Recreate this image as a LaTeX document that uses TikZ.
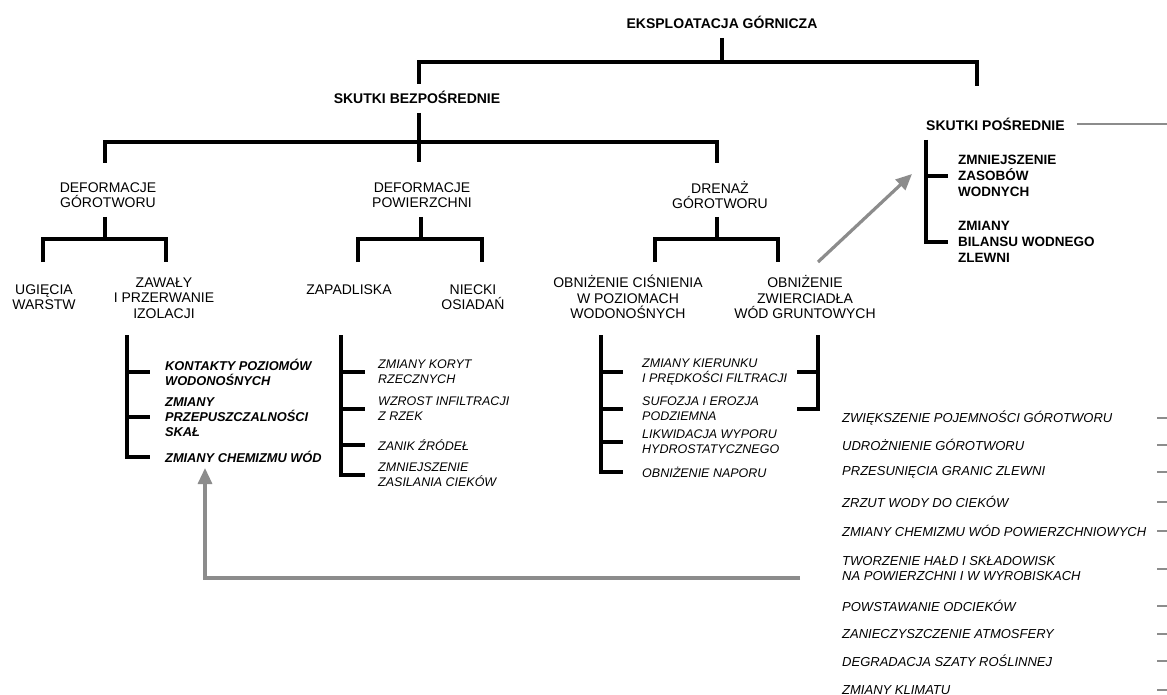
\documentclass[tikz,border=0pt]{standalone}
\usepackage{fontspec}
\setmainfont{Liberation Sans}
\usepackage{tikz}
\usetikzlibrary{arrows.meta,positioning,calc}
\definecolor{linkgray}{HTML}{8C8C8C}
\tikzset{
  header/.style={font=\fontsize{14}{16}\selectfont\bfseries, inner sep=0pt, align=center},
  outcome/.style={font=\fontsize{13.5}{16}\selectfont\bfseries, inner sep=0pt, align=left, anchor=west},
  branch/.style={font=\fontsize{14}{15.5}\selectfont, inner sep=0pt, align=center},
  effect/.style={font=\fontsize{12.8}{15}\selectfont\bfseries\itshape, inner sep=0pt, align=left, anchor=west},
  detail/.style={font=\fontsize{12.5}{15}\selectfont\itshape, inner sep=0pt, align=left, anchor=west},
  remote/.style={font=\fontsize{13}{15}\selectfont\itshape, inner sep=0pt, align=left, anchor=west},
  treeline/.style={draw=black, line width=3.2pt},
  feedback/.style={draw=linkgray, line width=3.2pt, -{Triangle[length=16pt,width=14pt]}},
  stub/.style={draw=linkgray, line width=2.4pt},
}

\begin{document}
\begin{tikzpicture}[x=1pt, y=-1pt]
  \fill[white] (0,0) rectangle (1167,695);
  \useasboundingbox (0,0) rectangle (1167,695);

  % main heads
  \node[header] (eksp) at (722,22) {EKSPLOATACJA GÓRNICZA};
  \node[header] (skbez) at (417,97) {SKUTKI BEZPOŚREDNIE};
  \node[header, anchor=west] (skpos) at (926,124) {SKUTKI POŚREDNIE};
  \node[outcome] (zasob) at (958,176) {ZMNIEJSZENIE\\ZASOBÓW\\WODNYCH};
  \node[outcome] (bilans) at (958,242) {ZMIANY\\BILANSU WODNEGO\\ZLEWNI};

  % second level
  \node[branch] (defg) at (108,195) {DEFORMACJE\\GÓROTWORU};
  \node[branch] (defp) at (422,195) {DEFORMACJE\\POWIERZCHNI};
  \node[branch] (dren) at (720,195) {DRENAŻ\\GÓROTWORU};

  % third level
  \node[branch] (ugi) at (44,297) {UGIĘCIA\\WARSTW};
  \node[branch] (zaw) at (164,298) {ZAWAŁY\\I PRZERWANIE\\IZOLACJI};
  \node[branch] (zap) at (349,290) {ZAPADLISKA};
  \node[branch] (nie) at (473,297) {NIECKI\\OSIADAŃ};
  \node[branch] (obc) at (628,297) {OBNIŻENIE CIŚNIENIA\\W POZIOMACH\\WODONOŚNYCH};
  \node[branch] (obz) at (805,297) {OBNIŻENIE\\ZWIERCIADŁA\\WÓD GRUNTOWYCH};

  % effects
  \node[effect] (kont) at (165,372) {KONTAKTY POZIOMÓW\\WODONOŚNYCH};
  \node[effect] (przep) at (165,417) {ZMIANY\\PRZEPUSZCZALNOŚCI\\SKAŁ};
  \node[effect] (chem) at (165,457) {ZMIANY CHEMIZMU WÓD};
  \node[detail] (koryt) at (378,372) {ZMIANY KORYT\\RZECZNYCH};
  \node[detail] (infil) at (378,409) {WZROST INFILTRACJI\\Z RZEK};
  \node[detail] (zanik) at (378,445) {ZANIK ŹRÓDEŁ};
  \node[detail] (zasil) at (378,475) {ZMNIEJSZENIE\\ZASILANIA CIEKÓW};
  \node[detail] (kier) at (642,372) {ZMIANY KIERUNKU\\I PRĘDKOŚCI FILTRACJI};
  \node[detail] (sufo) at (642,409) {SUFOZJA I EROZJA\\PODZIEMNA};
  \node[detail] (likw) at (642,442) {LIKWIDACJA WYPORU\\HYDROSTATYCZNEGO};
  \node[detail] (napor) at (642,472) {OBNIŻENIE NAPORU};

  % remote effects
  \node[remote] (zwiek) at (842,418) {ZWIĘKSZENIE POJEMNOŚCI GÓROTWORU};
  \node[remote] (udroz) at (842,445) {UDROŻNIENIE GÓROTWORU};
  \node[remote] (przes) at (842,472) {PRZESUNIĘCIA GRANIC ZLEWNI};
  \node[remote] (zrzut) at (842,502) {ZRZUT WODY DO CIEKÓW};
  \node[remote] (chempow) at (842,531) {ZMIANY CHEMIZMU WÓD POWIERZCHNIOWYCH};
  \node[remote] (tworz) at (842,569) {TWORZENIE HAŁD I SKŁADOWISK\\NA POWIERZCHNI I W WYROBISKACH};
  \node[remote] (odciek) at (842,606) {POWSTAWANIE ODCIEKÓW};
  \node[remote] (atmo) at (842,634) {ZANIECZYSZCZENIE ATMOSFERY};
  \node[remote] (szata) at (842,661) {DEGRADACJA SZATY ROŚLINNEJ};
  \node[remote] (klimat) at (842,690) {ZMIANY KLIMATU};

  \coordinate (posdrop) at (977,86);
  \coordinate (backstart) at (800,578);
  \coordinate (backtip) at (205,468);
  \coordinate (drainfoot) at (818,262);
  \coordinate (drainup) at (912,174);

  % tree
  \draw[treeline] (eksp |- 0,38) -- (eksp |- 0,62);
  \draw[treeline] (419,84) |- (posdrop |- 0,62) -- (posdrop);
  \draw[treeline] (419,113) -- (419,162);
  \draw[treeline] (105,163) |- (717,142) -- (717,163);
  \draw[treeline] (105,217) -- (105,239);
  \draw[treeline] (43,262) |- (166,239) -- (166,262);
  \draw[treeline] (421,217) -- (421,239);
  \draw[treeline] (358,262) |- (482,239) -- (482,262);
  \draw[treeline] (717,217) -- (717,239);
  \draw[treeline] (655,262) |- (778,239) -- (778,262);

  % side brackets
  \draw[treeline] (127,335) |- ([xshift=-15pt]chem.west);
  \draw[treeline] (kont.west -| 127,0) -- ([xshift=-15pt]kont.west);
  \draw[treeline] (przep.west -| 127,0) -- ([xshift=-15pt]przep.west);
  \draw[treeline] (341,335) |- ([xshift=-13pt]zasil.west);
  \draw[treeline] (koryt.west -| 341,0) -- ([xshift=-13pt]koryt.west);
  \draw[treeline] (infil.west -| 341,0) -- ([xshift=-13pt]infil.west);
  \draw[treeline] (zanik.west -| 341,0) -- ([xshift=-13pt]zanik.west);
  \draw[treeline] (601,335) |- ([xshift=-19pt]napor.west);
  \draw[treeline] (kier.west -| 601,0) -- ([xshift=-19pt]kier.west);
  \draw[treeline] (sufo.west -| 601,0) -- ([xshift=-19pt]sufo.west);
  \draw[treeline] (likw.west -| 601,0) -- ([xshift=-19pt]likw.west);
  \draw[treeline] (818,335) |- (sufo -| 797,0);
  \draw[treeline] (kier -| 818,0) -- (kier -| 797,0);
  \draw[treeline] (926,140) |- ([xshift=-10pt]bilans.west);
  \draw[treeline] (zasob.west -| 926,0) -- ([xshift=-10pt]zasob.west);

  % gray links
  \draw[linkgray, line width=2.8pt] ([xshift=12pt]skpos.east) -- (skpos.east -| 1167,0);
  \draw[feedback] (drainfoot) -- (drainup);
  \draw[feedback] (backstart) -| (backtip);
  \draw[stub] (zwiek -| 1157,0) -- (zwiek -| 1167,0);
  \draw[stub] (udroz -| 1157,0) -- (udroz -| 1167,0);
  \draw[stub] (przes -| 1157,0) -- (przes -| 1167,0);
  \draw[stub] (zrzut -| 1157,0) -- (zrzut -| 1167,0);
  \draw[stub] (chempow -| 1157,0) -- (chempow -| 1167,0);
  \draw[stub] (tworz -| 1157,0) -- (tworz -| 1167,0);
  \draw[stub] (odciek -| 1157,0) -- (odciek -| 1167,0);
  \draw[stub] (atmo -| 1157,0) -- (atmo -| 1167,0);
  \draw[stub] (szata -| 1157,0) -- (szata -| 1167,0);
  \draw[stub] (klimat -| 1157,0) -- (klimat -| 1167,0);
\end{tikzpicture}
\end{document}
